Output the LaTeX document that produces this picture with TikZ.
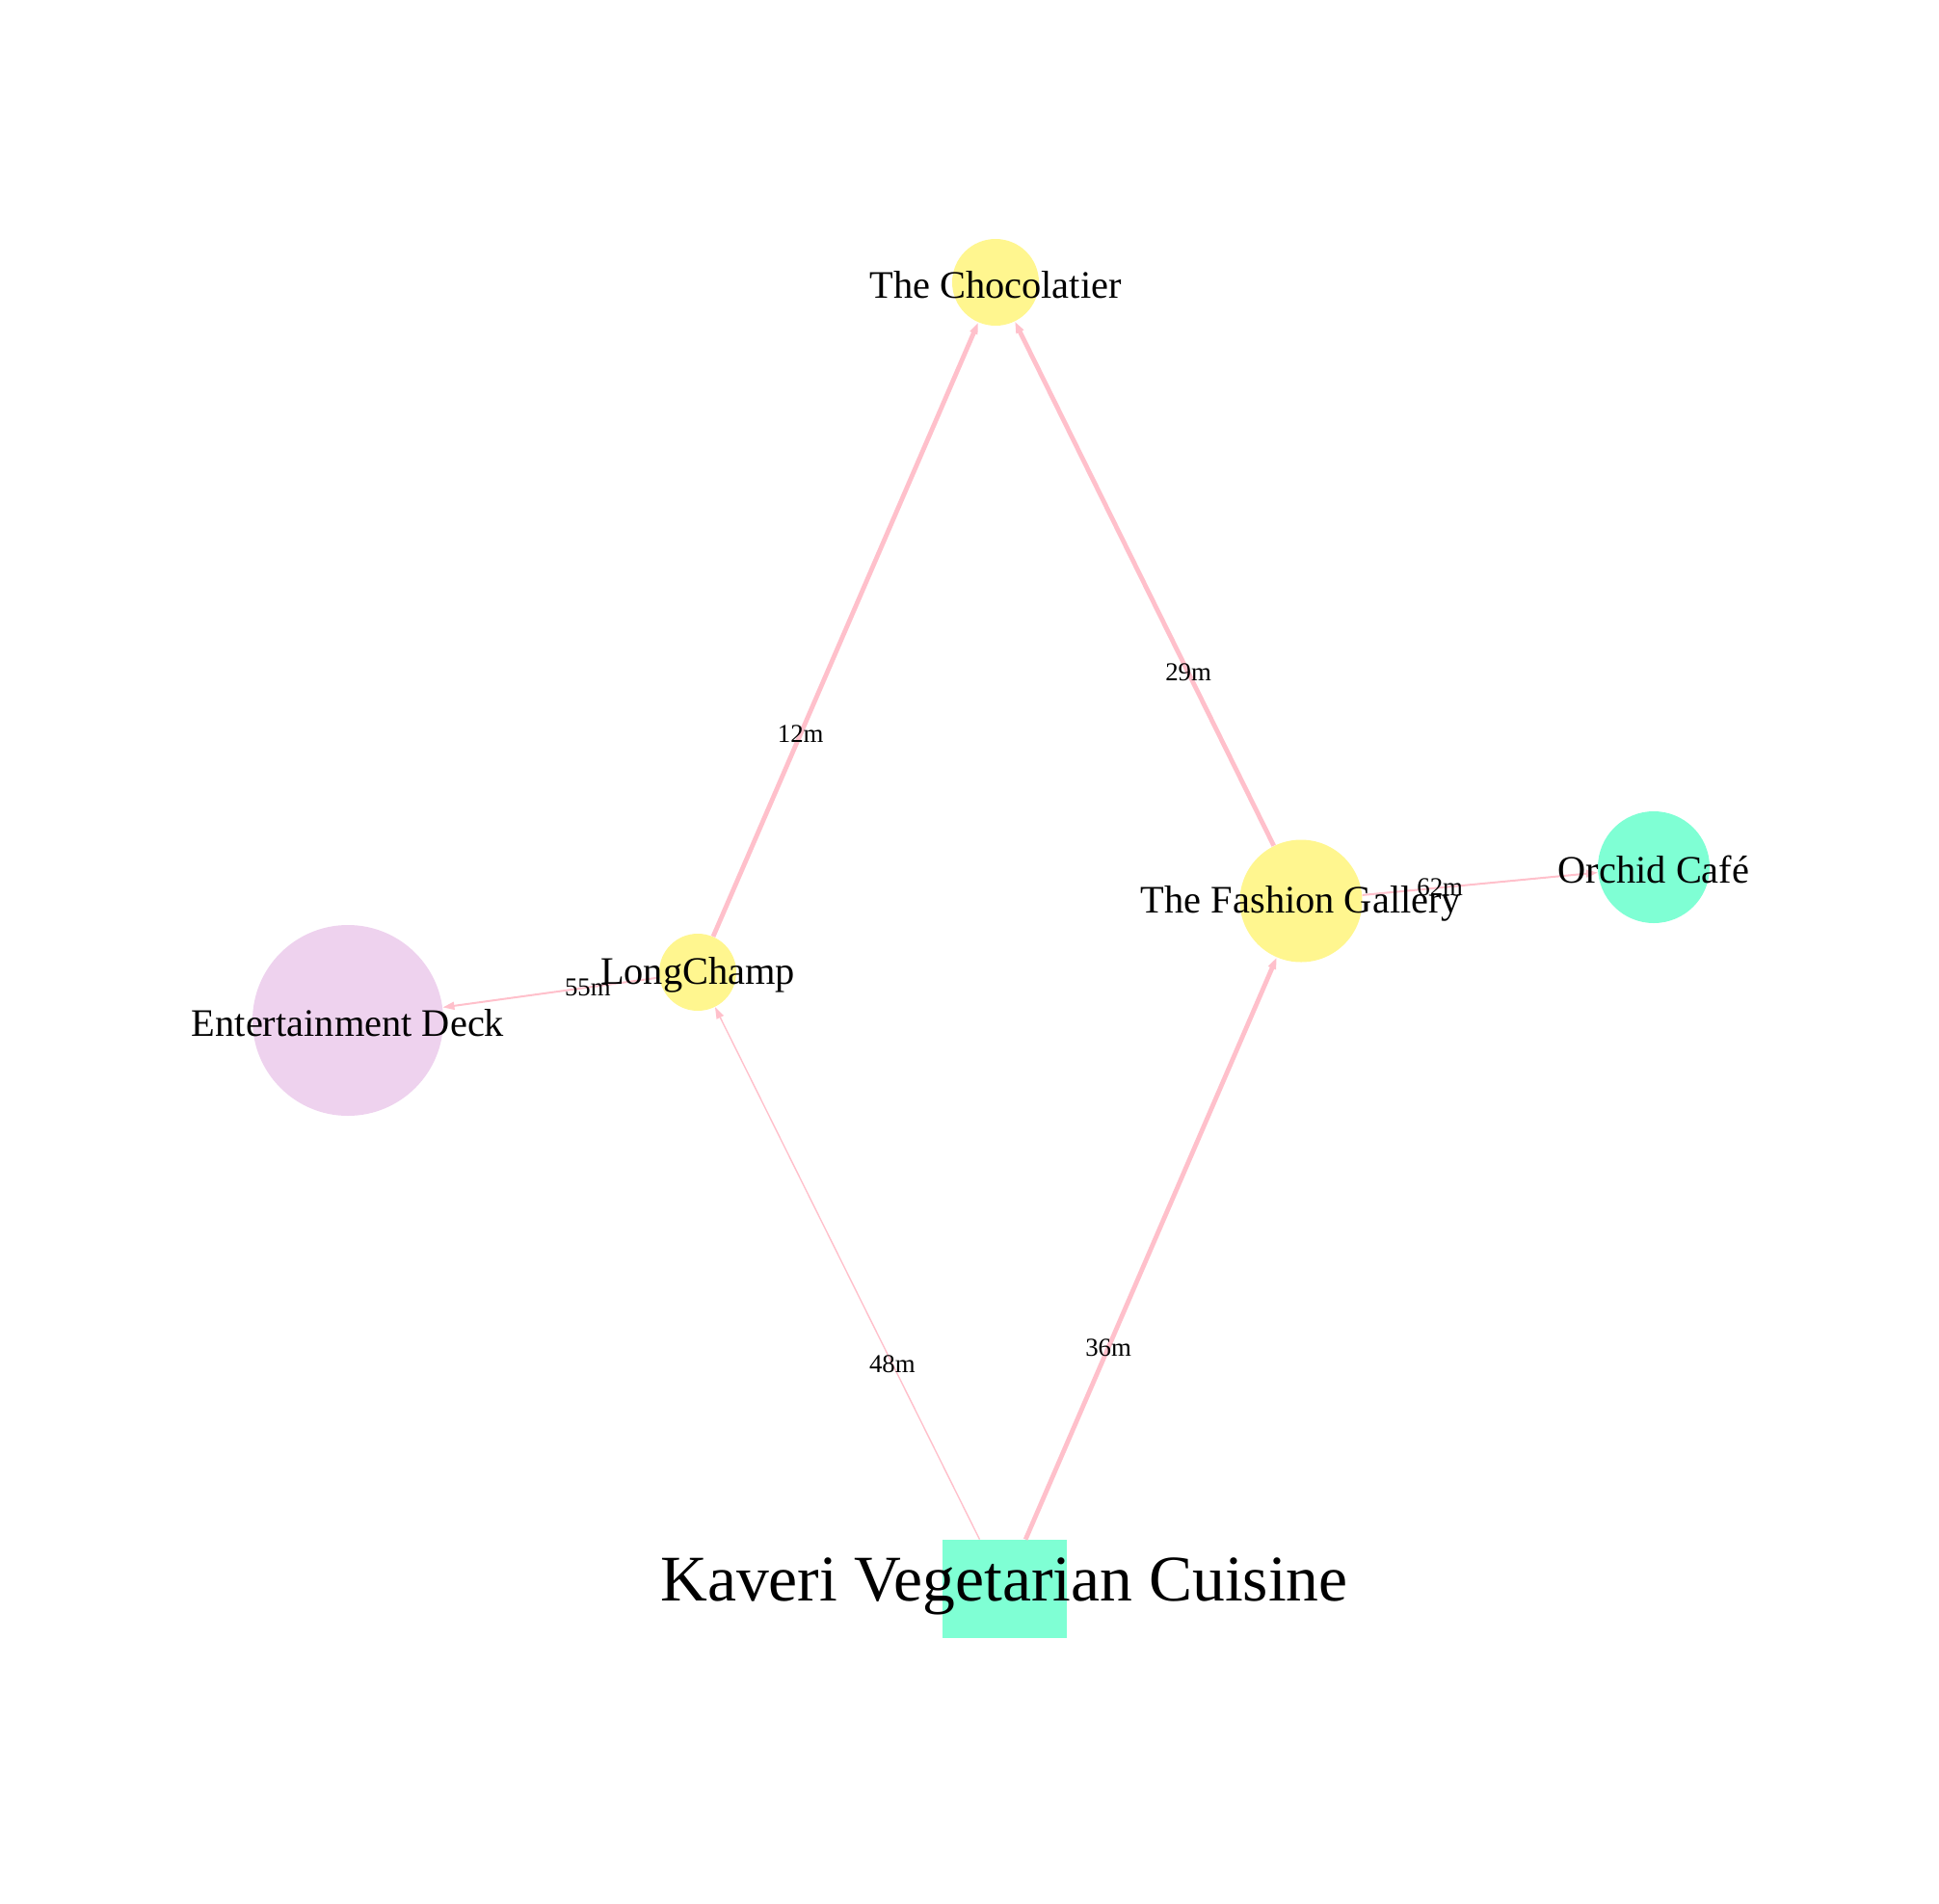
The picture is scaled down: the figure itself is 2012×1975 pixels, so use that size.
\documentclass[tikz,border=0pt]{standalone}
\usepackage{fontspec}
\setmainfont{Liberation Serif}
\usetikzlibrary{arrows.meta}

\definecolor{walkpink}{RGB}{255,192,203}
\definecolor{shopyellow}{RGB}{255,246,143}
\definecolor{eatgreen}{RGB}{127,255,212}
\definecolor{funlilac}{RGB}{238,210,238}

\begin{document}
\begin{tikzpicture}[
      x=0.5pt, y=-0.5pt,
      spot/.style={circle, draw=none, inner sep=0pt},
      venue/.style={font=\fontsize{20.2}{24}\selectfont, inner sep=0pt, yshift=-1.2pt},
      dist/.style={font=\fontsize{13.4}{16}\selectfont, inner sep=0pt},
      arr/.style={-{Triangle[length=6pt, width=4pt]}, draw=walkpink},
      heavy/.style={line width=2.4pt},
      light/.style={line width=1pt},
      faint/.style={line width=0.7pt}
    ]
    \useasboundingbox (0,0) rectangle (2012,1975);

    % places
    \node[spot, fill=shopyellow, minimum size=45pt] (choc) at (1033,293) {};
    \node[spot, fill=shopyellow, minimum size=63.5pt] (fashion) at (1350,935) {};
    \node[spot, fill=eatgreen, minimum size=58pt] (orchid) at (1716,900) {};
    \node[spot, fill=shopyellow, minimum size=40pt] (longchamp) at (724,1009) {};
    \node[spot, fill=funlilac, minimum size=99pt] (deck) at (361,1059) {};
    \node[rectangle, fill=eatgreen, inner sep=0pt, minimum width=64.5pt,
          minimum height=51pt] (kaveri) at (1042,1649) {};

    % walks
    \draw[arr, faint] (kaveri) -- node[pos=0.33, dist] {48m} (longchamp);
    \draw[arr, heavy] (kaveri) -- node[pos=0.33, dist] {36m} (fashion);
    \draw[arr, heavy] (longchamp) -- node[pos=0.33, dist] {12m} (choc);
    \draw[arr, heavy] (fashion) -- node[pos=0.33, dist] {29m} (choc);
    \draw[arr, light] (longchamp) -- node[pos=0.33, dist] {55m} (deck);
    \draw[arr, light] (fashion) -- node[pos=0.33, dist] {62m} (orchid);

    % names on top
    \node[venue] at (choc) {The Chocolatier};
    \node[venue] at (fashion) {The Fashion Gallery};
    \node[venue] at (orchid) {Orchid Café};
    \node[venue] at (longchamp) {LongChamp};
    \node[venue] at (deck) {Entertainment Deck};
    \node[venue, font=\fontsize{33.8}{40}\selectfont] at ([yshift=2.5pt]kaveri) {Kaveri Vegetarian Cuisine};
  \end{tikzpicture}
\end{document}
